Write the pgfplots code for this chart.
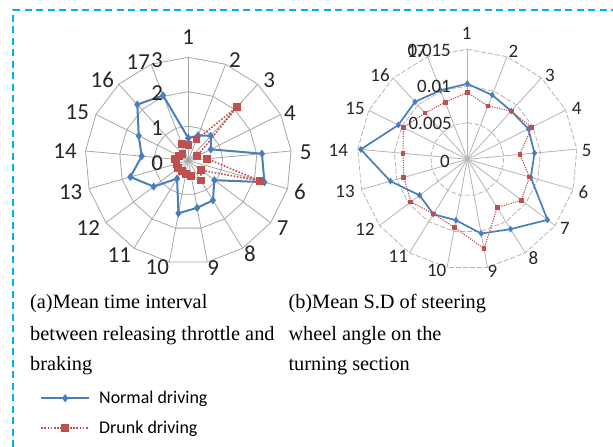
\documentclass[border=0pt]{standalone}
\usepackage{pgfplots}
\pgfplotsset{compat=1.18}
\usepackage{pgfplotstable}
\usepackage{fontspec}
\setmainfont{Liberation Serif}
\newfontfamily\carlito{Carlito}
\definecolor{nblue}{HTML}{4A7EBB}
\definecolor{dred}{HTML}{C0504D}
\definecolor{gridg}{HTML}{A6A6A6}
\definecolor{gridb}{HTML}{B4B4B4}
\definecolor{bord}{HTML}{00B0F0}

% ring table: category index 1..18 (18 closes the polygon)
\pgfplotstableread{
k r
1 1
2 1
3 1
4 1
5 1
6 1
7 1
8 1
9 1
10 1
11 1
12 1
13 1
14 1
15 1
16 1
17 1
18 1
}\ringtab

% (a) Mean time interval between releasing throttle and braking
\pgfplotstableread{
k v
1 0.65
2 0.78
3 0.97
4 0.73
5 2.15
6 2.30
7 0.95
8 1.36
9 1.40
10 1.56
11 0.62
12 1.26
13 1.75
14 1.36
15 1.61
16 2.20
17 2.03
18 0.65
}\normA
\pgfplotstableread{
k v
1 0.45
2 0.65
3 2.10
4 0.28
5 0.55
6 2.16
7 0.47
8 0.69
9 0.46
10 0.40
11 0.35
12 0.37
13 0.36
14 0.39
15 0.30
16 0.25
17 0.52
18 0.45
}\drunkA

% (b) Mean S.D of steering wheel angle on the turning section
\pgfplotstableread{
k v
1 0.0103
2 0.0094
3 0.0089
4 0.0093
5 0.0092
6 0.0090
7 0.0137
8 0.0112
9 0.0103
10 0.00845
11 0.0088
12 0.00815
13 0.0109
14 0.0146
15 0.0105
16 0.0106
17 0.0101
18 0.0103
}\normB
\pgfplotstableread{
k v
1 0.0091
2 0.0078
3 0.0089
4 0.0098
5 0.0072
6 0.0088
7 0.00925
8 0.00775
9 0.0124
10 0.00945
11 0.00875
12 0.00965
13 0.0090
14 0.0088
15 0.00975
16 0.00855
17 0.00835
18 0.0091
}\drunkB

\begin{document}
\begin{tikzpicture}
\path[use as bounding box] (0,0) rectangle (613bp,-447bp);
\begin{scope}
\clip (0,0) rectangle (613bp,-447bp);
\draw[bord, line width=2bp, dash pattern=on 7bp off 4.5bp] (13.3bp,-470bp) -- (13.3bp,-10bp) -- (640bp,-10bp);
\end{scope}

%---------------- chart (a)
\begin{axis}[at={(188.3bp,-160.5bp)}, anchor=origin,
  x=34.4bp, y=34.4bp, xmin=-3.2, xmax=3.2, ymin=-3.2, ymax=3.2,
  hide axis, clip=false,
  legend style={at={(-0.1736,-0.538)}, anchor=north west, draw=none, fill=none,
    font=\carlito\fontsize{18}{21}\selectfont, legend cell align=left,
    row sep=12bp, inner sep=0pt},
  legend image code/.code={\draw[mark repeat=2, mark phase=2, #1] plot coordinates {(0bp,0bp) (24bp,0bp) (48bp,0bp)}; \path (55bp,0bp);}]
\pgfplotsinvokeforeach{1,2,3}{
  \addplot[gridg, line width=0.8bp, mark=none, forget plot]
    table[x expr={#1*cos(90-(\thisrow{k}-1)*360/17)}, y expr={#1*sin(90-(\thisrow{k}-1)*360/17)}]{\ringtab};
}
\pgfplotsinvokeforeach{1,...,17}{
  \draw[gridg, line width=0.8bp] (axis cs:0,0) -- (axis cs:{3*cos(90-(#1-1)*360/17)},{3*sin(90-(#1-1)*360/17)});
}
\addplot[nblue, line width=2bp, mark=diamond*, mark size=2.5bp, mark options={solid, fill=nblue}]
  table[x expr={\thisrow{v}*cos(90-(\thisrow{k}-1)*360/17)}, y expr={\thisrow{v}*sin(90-(\thisrow{k}-1)*360/17)}]{\normA};
\addlegendentry{Normal driving}
\addplot[dred, line width=1.6bp, dash pattern=on 1.6bp off 1.6bp, mark=square*, mark size=3bp, mark options={solid, fill=dred}]
  table[x expr={\thisrow{v}*cos(90-(\thisrow{k}-1)*360/17)}, y expr={\thisrow{v}*sin(90-(\thisrow{k}-1)*360/17)}]{\drunkA};
\addlegendentry{Drunk driving}
\end{axis}

%---------------- chart (b)
\begin{axis}[at={(467.3bp,-159.3bp)}, anchor=origin,
  x=7.333bp, y=7.333bp, xmin=-16, xmax=16, ymin=-16, ymax=16,
  hide axis, clip=false]
\pgfplotsinvokeforeach{5,10,15}{
  \addplot[gridb, line width=0.8bp, dash pattern=on 5bp off 2bp, mark=none, forget plot]
    table[x expr={#1*cos(90-(\thisrow{k}-1)*360/17)}, y expr={#1*sin(90-(\thisrow{k}-1)*360/17)}]{\ringtab};
}
\pgfplotsinvokeforeach{1,...,17}{
  \draw[gridb, line width=0.8bp] (axis cs:0,0) -- (axis cs:{15*cos(90-(#1-1)*360/17)},{15*sin(90-(#1-1)*360/17)});
}
\addplot[nblue, line width=1.7bp, mark=diamond*, mark size=2bp, mark options={solid, fill=nblue}]
  table[x expr={1000*\thisrow{v}*cos(90-(\thisrow{k}-1)*360/17)}, y expr={1000*\thisrow{v}*sin(90-(\thisrow{k}-1)*360/17)}]{\normB};
\addplot[dred, line width=1.1bp, dash pattern=on 1.2bp off 1.2bp, mark=square*, mark size=1.8bp, mark options={solid, fill=dred}]
  table[x expr={1000*\thisrow{v}*cos(90-(\thisrow{k}-1)*360/17)}, y expr={1000*\thisrow{v}*sin(90-(\thisrow{k}-1)*360/17)}]{\drunkB};
\end{axis}

%---------------- labels (a)
\begin{scope}[every node/.style={inner sep=0pt, font=\carlito\fontsize{23}{27}\selectfont, text=black!85}]
\node at (188.3bp,-36.7bp) {1};
\node at (235bp,-60bp) {2};
\node at (269.3bp,-80bp) {3};
\node at (290bp,-113.3bp) {4};
\node at (305.7bp,-152.7bp) {5};
\node at (300bp,-191.7bp) {6};
\node at (282.7bp,-228.3bp) {7};
\node at (250bp,-253.3bp) {8};
\node at (213.3bp,-268.3bp) {9};
\node at (157.3bp,-266.7bp) {10};
\node at (119.3bp,-255bp) {11};
\node at (88.3bp,-228.3bp) {12};
\node at (70.7bp,-191.7bp) {13};
\node at (65bp,-151.3bp) {14};
\node at (77.3bp,-112.3bp) {15};
\node at (102.3bp,-80bp) {16};
\node at (138.3bp,-61.7bp) {17};
\node at (157.3bp,-162.7bp) {0};
\node at (157.3bp,-128.3bp) {1};
\node at (157.3bp,-92.7bp) {2};
\node at (157bp,-60bp) {3};
\end{scope}

%---------------- labels (b)
\begin{scope}[every node/.style={inner sep=0pt, font=\carlito\fontsize{19}{22}\selectfont, text=black!85}]
\node at (466.7bp,-33.3bp) {1};
\node at (513.3bp,-51.7bp) {2};
\node at (550bp,-75bp) {3};
\node at (576.7bp,-108.3bp) {4};
\node at (586.7bp,-150bp) {5};
\node at (583.3bp,-191.7bp) {6};
\node at (565bp,-228.3bp) {7};
\node at (533.3bp,-258.3bp) {8};
\node at (492.3bp,-271.7bp) {9};
\node at (436.7bp,-270bp) {10};
\node at (398.3bp,-256.7bp) {11};
\node at (365bp,-229.3bp) {12};
\node at (345bp,-191.7bp) {13};
\node at (338.3bp,-150bp) {14};
\node at (355bp,-108.3bp) {15};
\node at (380bp,-75bp) {16};
\node at (416.7bp,-51.7bp) {17};
\node[anchor=east] at (451bp,-50bp) {0.015};
\node[anchor=east] at (451bp,-86bp) {0.01};
\node[anchor=east] at (452bp,-123.3bp) {0.005};
\node[anchor=east] at (450bp,-161.7bp) {0};
\end{scope}

%---------------- captions
\begin{scope}[every node/.style={inner sep=0pt, anchor=base west, font=\fontsize{20.4}{24}\selectfont}]
\node at (30bp,-308.3bp) {(a)Mean time interval};
\node at (30bp,-340bp) {between releasing throttle and};
\node at (30bp,-370.7bp) {braking};
\node at (288.3bp,-308.3bp) {(b)Mean S.D of steering};
\node at (288.3bp,-340bp) {wheel angle on the};
\node at (288.3bp,-370.7bp) {turning section};
\end{scope}
\end{tikzpicture}
\end{document}
